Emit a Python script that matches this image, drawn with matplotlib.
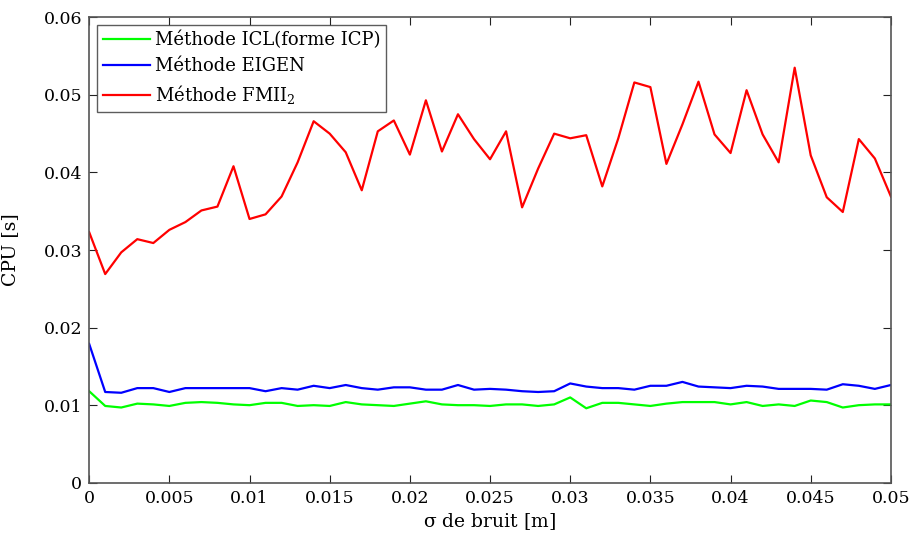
import matplotlib.pyplot as plt

plt.rcParams['font.family'] = ['DejaVu Serif']
plt.rcParams['mathtext.fontset'] = 'dejavuserif'

sigma = [i / 1000 for i in range(51)]

icl = [0.0118, 0.0099, 0.0097, 0.0102, 0.0101, 0.0099, 0.0103, 0.0104, 0.0103, 0.0101,
       0.0100, 0.0103, 0.0103, 0.0099, 0.0100, 0.0099, 0.0104, 0.0101, 0.0100, 0.0099,
       0.0102, 0.0105, 0.0101, 0.0100, 0.0100, 0.0099, 0.0101, 0.0101, 0.0099, 0.0101,
       0.0110, 0.0096, 0.0103, 0.0103, 0.0101, 0.0099, 0.0102, 0.0104, 0.0104, 0.0104,
       0.0101, 0.0104, 0.0099, 0.0101, 0.0099, 0.0106, 0.0104, 0.0097, 0.0100, 0.0101,
       0.0101]

eigen = [0.0179, 0.0117, 0.0116, 0.0122, 0.0122, 0.0117, 0.0122, 0.0122, 0.0122, 0.0122,
         0.0122, 0.0118, 0.0122, 0.0120, 0.0125, 0.0122, 0.0126, 0.0122, 0.0120, 0.0123,
         0.0123, 0.0120, 0.0120, 0.0126, 0.0120, 0.0121, 0.0120, 0.0118, 0.0117, 0.0118,
         0.0128, 0.0124, 0.0122, 0.0122, 0.0120, 0.0125, 0.0125, 0.0130, 0.0124, 0.0123,
         0.0122, 0.0125, 0.0124, 0.0121, 0.0121, 0.0121, 0.0120, 0.0127, 0.0125, 0.0121,
         0.0126]

fmii = [0.0323, 0.0269, 0.0297, 0.0314, 0.0309, 0.0326, 0.0336, 0.0351, 0.0356, 0.0408,
        0.0340, 0.0346, 0.0369, 0.0413, 0.0466, 0.0450, 0.0426, 0.0377, 0.0453, 0.0467,
        0.0423, 0.0493, 0.0427, 0.0475, 0.0443, 0.0417, 0.0453, 0.0355, 0.0405, 0.0450,
        0.0444, 0.0448, 0.0382, 0.0444, 0.0516, 0.0510, 0.0411, 0.0462, 0.0517, 0.0449,
        0.0425, 0.0506, 0.0449, 0.0413, 0.0535, 0.0422, 0.0368, 0.0349, 0.0443, 0.0418,
        0.0369]

xticks = [0, 0.005, 0.01, 0.015, 0.02, 0.025, 0.03, 0.035, 0.04, 0.045, 0.05]
xlabels = ["0", "0.005", "0.01", "0.015", "0.02", "0.025", "0.03", "0.035", "0.04", "0.045", "0.05"]
yticks = [0, 0.01, 0.02, 0.03, 0.04, 0.05, 0.06]
ylabels = ["0", "0.01", "0.02", "0.03", "0.04", "0.05", "0.06"]

fig = plt.figure(figsize=(9.1, 5.4), dpi=100)
ax = fig.add_axes([0.098, 0.106, 0.881, 0.862])

ax.plot(sigma, icl, color="#00ff00", lw=1.6, label="Méthode ICL(forme ICP)")
ax.plot(sigma, eigen, color="#0000ff", lw=1.6, label="Méthode EIGEN")
ax.plot(sigma, fmii, color="#ff0000", lw=1.6, label=r"Méthode FMII$_2$")

ax.set_xlim(0, 0.05)
ax.set_ylim(0, 0.06)
ax.set_xticks(xticks)
ax.set_xticklabels(xlabels)
ax.set_yticks(yticks)
ax.set_yticklabels(ylabels)
ax.tick_params(direction="in", top=True, right=True, length=6, labelsize=12.5,
               color="#222222", pad=5)
for s in ax.spines.values():
    s.set_color("#555555")
    s.set_linewidth(1.2)

ax.set_xlabel(r"$\mathrm{\sigma}$ de bruit [m]", fontsize=13.5, labelpad=3)
ax.set_ylabel("CPU [s]", fontsize=13.5)
ax.yaxis.set_label_coords(-0.088, 0.5)

leg = ax.legend(loc="upper left", fontsize=13, frameon=True, fancybox=False,
                borderaxespad=0.45, handlelength=2.6, handletextpad=0.3,
                labelspacing=0.45, borderpad=0.3)
leg.get_frame().set_edgecolor("#333333")
leg.get_frame().set_linewidth(1.0)

fig.savefig("out.png", dpi=100)
